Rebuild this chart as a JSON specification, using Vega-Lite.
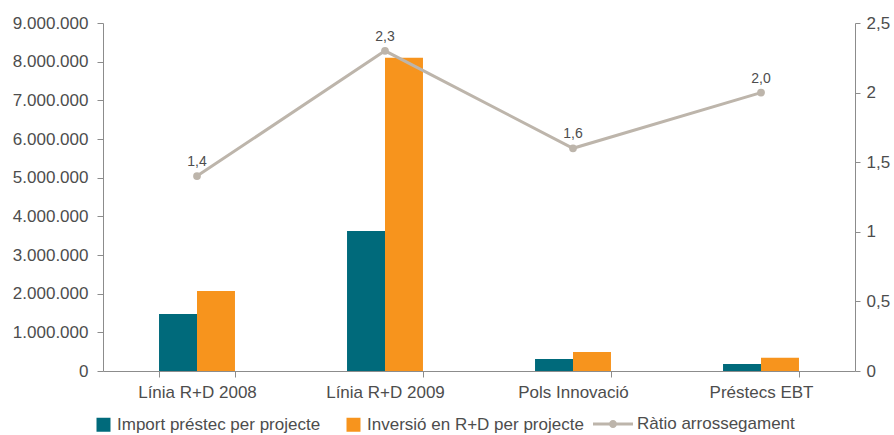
{
  "$schema": "https://vega.github.io/schema/vega-lite/v6.json",
  "width": 752,
  "height": 348,
  "autosize": {"type": "none"},
  "padding": {"left": 103, "top": 23, "right": 39, "bottom": 64},
  "background": "white",
  "config": {
    "locale": {"number": {"decimal": ",", "thousands": ".", "grouping": [3], "currency": ["", " €"]}},
    "view": {"stroke": null},
    "font": "Liberation Sans",
    "axis": {"domainColor": "#8c8c8c", "tickColor": "#8c8c8c", "labelColor": "#4d4d4d", "labelFontSize": 17, "labelFont": "Liberation Sans", "grid": false, "domainWidth": 1, "tickWidth": 1},
    "legend": {"labelColor": "#4d4d4d", "labelFont": "Liberation Sans", "labelFontSize": 17, "padding": 0, "labelLimit": 400}
  },
  "datasets": {
    "bars": [
      {"cat": "Línia R+D 2008", "serie": "Import préstec per projecte", "valor": 1475000},
      {"cat": "Línia R+D 2008", "serie": "Inversió en R+D per projecte", "valor": 2070000},
      {"cat": "Línia R+D 2009", "serie": "Import préstec per projecte", "valor": 3620000},
      {"cat": "Línia R+D 2009", "serie": "Inversió en R+D per projecte", "valor": 8100000},
      {"cat": "Pols Innovació", "serie": "Import préstec per projecte", "valor": 310000},
      {"cat": "Pols Innovació", "serie": "Inversió en R+D per projecte", "valor": 490000},
      {"cat": "Préstecs EBT", "serie": "Import préstec per projecte", "valor": 180000},
      {"cat": "Préstecs EBT", "serie": "Inversió en R+D per projecte", "valor": 340000}
    ],
    "ratio": [
      {"cat": "Línia R+D 2008", "ratio": 1.4},
      {"cat": "Línia R+D 2009", "ratio": 2.3},
      {"cat": "Pols Innovació", "ratio": 1.6},
      {"cat": "Préstecs EBT", "ratio": 2.0}
    ]
  },
  "layer": [
    {
      "data": {"name": "bars"},
      "mark": {"type": "bar"},
      "encoding": {
        "x": {
          "field": "cat", "type": "nominal", "sort": null,
          "scale": {"domain": ["Línia R+D 2008", "Línia R+D 2009", "Pols Innovació", "Préstecs EBT"], "paddingInner": 0.596, "paddingOuter": 0.298},
          "axis": {"labelAngle": 0, "tickBand": "extent", "tickSize": 6, "labelPadding": 7, "title": null}
        },
        "xOffset": {
          "field": "serie", "type": "nominal", "sort": null,
          "scale": {"domain": ["Import préstec per projecte", "Inversió en R+D per projecte"], "paddingInner": 0, "paddingOuter": 0}
        },
        "y": {
          "field": "valor", "type": "quantitative",
          "scale": {"domain": [0, 9000000], "nice": false},
          "axis": {"values": [0, 1000000, 2000000, 3000000, 4000000, 5000000, 6000000, 7000000, 8000000, 9000000], "format": ",d", "tickSize": 6, "labelPadding": 9, "title": null}
        },
        "color": {
          "field": "serie", "type": "nominal", "sort": null,
          "scale": {"domain": ["Import préstec per projecte", "Inversió en R+D per projecte"], "range": ["#006a7b", "#f7941d"]},
          "legend": {"orient": "none", "legendX": -8, "legendY": 393, "direction": "horizontal", "title": null, "symbolType": "square", "symbolSize": 196, "symbolStrokeWidth": 0, "labelOffset": 5, "columnPadding": 24}
        }
      }
    },
    {
      "data": {"name": "ratio"},
      "layer": [
        {
          "mark": {"type": "line", "strokeWidth": 3, "point": {"filled": true, "size": 60}},
          "encoding": {
            "x": {"field": "cat", "type": "nominal", "sort": null},
            "y": {
              "field": "ratio", "type": "quantitative",
              "scale": {"domain": [0, 2.5], "nice": false},
              "axis": {"orient": "right", "values": [0, 0.5, 1, 1.5, 2, 2.5], "format": "~g", "tickSize": 5, "labelPadding": 6, "title": null}
            },
            "color": {
              "datum": "Ràtio arrossegament",
              "scale": {"domain": ["Ràtio arrossegament"], "range": ["#bdb5ab"]},
              "legend": {
                "orient": "none", "legendX": 490, "legendY": 381, "title": null,
                "symbolType": "M-1,-0.075L1,-0.075L1,0.075L-1,0.075Z M0.2,0A0.2,0.2,0,1,1,-0.2,0A0.2,0.2,0,1,1,0.2,0Z",
                "symbolSize": 1600, "labelOffset": 4,
                "encode": {"symbols": {"update": {"fill": {"value": "#bdb5ab"}, "stroke": {"value": "transparent"}, "strokeWidth": {"value": 0}, "opacity": {"value": 1}}}}
              }
            }
          }
        },
        {
          "mark": {"type": "text", "baseline": "alphabetic", "dy": -10, "fontSize": 14, "color": "#4d4d4d", "font": "Liberation Sans"},
          "encoding": {
            "x": {"field": "cat", "type": "nominal", "sort": null},
            "y": {"field": "ratio", "type": "quantitative"},
            "text": {"field": "ratio", "type": "quantitative", "format": ".1f"}
          }
        }
      ]
    }
  ],
  "resolve": {"scale": {"y": "independent", "color": "independent"}}
}
